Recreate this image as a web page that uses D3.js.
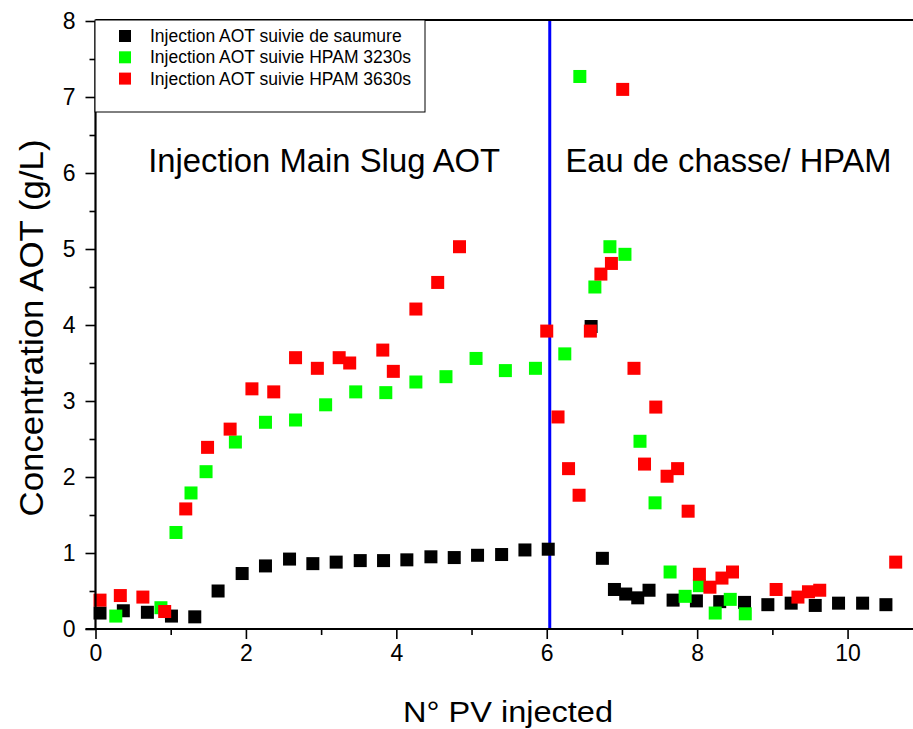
<!DOCTYPE html>
<html>
<head>
<meta charset="utf-8">
<script src="https://cdn.jsdelivr.net/npm/d3@7"></script>
<style>
  body { margin: 0; background: #fff; }
  text { font-family: "Liberation Sans", Arial, sans-serif; fill: #000; }
</style>
</head>
<body>
<div id="chart"></div>
<script>
// series: injection AOT followed by brine
const saumureX = [0.06, 0.37, 0.69, 1.01, 1.32, 1.63, 1.95, 2.26, 2.58, 2.89, 3.20, 3.52, 3.83, 4.14, 4.46, 4.77, 5.08, 5.40, 5.71, 6.02,
                  6.59, 6.74, 6.90, 7.05, 7.21, 7.36, 7.68, 7.99, 8.30, 8.63, 8.94, 9.25, 9.57, 9.88, 10.20, 10.51];
const saumureY = [0.21, 0.24, 0.22, 0.17, 0.16, 0.50, 0.73, 0.83, 0.92, 0.86, 0.88, 0.90, 0.90, 0.91, 0.95, 0.94, 0.97, 0.98, 1.04, 1.05,
                  3.98, 0.93, 0.52, 0.46, 0.41, 0.51, 0.38, 0.37, 0.36, 0.35, 0.32, 0.34, 0.31, 0.34, 0.34, 0.32];

// series: injection AOT followed by HPAM 3230s
const hpam3230X = [0.27, 0.87, 1.07, 1.27, 1.47, 1.86, 2.26, 2.66, 3.06, 3.46, 3.86, 4.26, 4.66, 5.06, 5.45, 5.85,
                   6.24, 6.44, 6.64, 6.84, 7.04, 7.24, 7.44, 7.64, 7.84, 8.03, 8.24, 8.44, 8.64];
const hpam3230Y = [0.17, 0.28, 1.27, 1.79, 2.07, 2.46, 2.72, 2.75, 2.95, 3.12, 3.11, 3.25, 3.32, 3.56, 3.40, 3.43,
                   3.62, 7.27, 4.50, 5.03, 4.93, 2.47, 1.66, 0.75, 0.43, 0.57, 0.21, 0.39, 0.20];

// series: injection AOT followed by HPAM 3630s
const hpam3630X = [0.06, 0.33, 0.63, 0.92, 1.20, 1.49, 1.79, 2.08, 2.37, 2.66, 2.95, 3.24, 3.38, 3.82, 3.96, 4.26, 4.55, 4.84,
                   6.00, 6.15, 6.29, 6.43, 6.58, 6.72, 6.86, 7.01, 7.16, 7.30, 7.45, 7.60, 7.74, 7.88, 8.03, 8.17, 8.33, 8.47,
                   9.05, 9.34, 9.48, 9.63, 10.64];
const hpam3630Y = [0.38, 0.44, 0.42, 0.23, 1.58, 2.39, 2.63, 3.16, 3.12, 3.57, 3.43, 3.57, 3.50, 3.67, 3.39, 4.21, 4.56, 5.03,
                   3.92, 2.79, 2.11, 1.76, 3.92, 4.67, 4.81, 7.10, 3.43, 2.17, 2.92, 2.01, 2.11, 1.55, 0.72, 0.55, 0.67, 0.75,
                   0.52, 0.42, 0.49, 0.51, 0.88];

const seriesNames = ["Injection AOT suivie de saumure", "Injection AOT suivie HPAM 3230s", "Injection AOT suivie HPAM 3630s"];
const seriesColors = ["#000000", "#00ff00", "#ff0000"];

const xTicks = [0, 2, 4, 6, 8, 10];
const xMinor = [1, 3, 5, 7, 9];
const yTicks = [0, 1, 2, 3, 4, 5, 6, 7, 8];
const yMinor = [0.5, 1.5, 2.5, 3.5, 4.5, 5.5, 6.5, 7.5];

const separatorX = 6.04;
const zoneLabels = ["Injection Main Slug AOT", "Eau de chasse/ HPAM"];
const zoneLabelX = [0.7, 6.25];

const width = 913, height = 729;
const plotLeft = 95.5, plotTop = 21, plotBottom = 629;

var svg = d3.select("#chart").append("svg")
    .attr("width", width)
    .attr("height", height);

var x = d3.scaleLinear().domain([0, 10.87]).range([plotLeft, 913]);
var y = d3.scaleLinear().domain([0, 8]).range([plotBottom, plotTop]);

// zone separator
svg.append("line")
    .attr("x1", x(separatorX)).attr("x2", x(separatorX))
    .attr("y1", y(8)).attr("y2", y(0))
    .attr("stroke", "#0000ff")
    .attr("stroke-width", 3);

// zone labels
svg.selectAll("text.zone")
    .data(zoneLabels)
    .enter()
    .append("text")
    .attr("class", "zone")
    .attr("x", (d, i) => x(zoneLabelX[i]))
    .attr("y", 172)
    .attr("textLength", (d, i) => i === 0 ? 352 : 326)
    .attr("lengthAdjust", "spacingAndGlyphs")
    .style("font-size", "33px")
    .text(d => d);

// points, black first then green then red
const size = 13;
const allSeries = [
    d3.zip(saumureX, saumureY),
    d3.zip(hpam3230X, hpam3230Y),
    d3.zip(hpam3630X, hpam3630Y)
];
allSeries.forEach((pts, i) => {
    svg.append("g").selectAll("rect")
        .data(pts)
        .enter()
        .append("rect")
        .attr("x", d => x(d[0]) - size / 2)
        .attr("y", d => y(d[1]) - size / 2)
        .attr("width", size)
        .attr("height", size)
        .attr("fill", seriesColors[i]);
});

// axes
var xAxis = svg.append("g")
    .attr("transform", "translate(0," + plotBottom + ")")
    .call(d3.axisBottom(x).tickValues(xTicks).tickSize(10).tickPadding(6).tickFormat(d3.format("d")));
svg.append("g")
    .attr("transform", "translate(0," + plotBottom + ")")
    .call(d3.axisBottom(x).tickValues(xMinor).tickSize(6).tickFormat(""))
    .select(".domain").remove();

var yAxis = svg.append("g")
    .attr("transform", "translate(" + plotLeft + ",0)")
    .call(d3.axisLeft(y).tickValues(yTicks).tickSize(10).tickPadding(10).tickFormat(d3.format("d")));
svg.append("g")
    .attr("transform", "translate(" + plotLeft + ",0)")
    .call(d3.axisLeft(y).tickValues(yMinor).tickSize(6).tickFormat(""))
    .select(".domain").remove();

svg.selectAll(".tick line").attr("stroke", "#000").attr("stroke-width", 1.6);
xAxis.select(".domain").attr("d", "M" + (plotLeft - 10) + ",0H913").attr("stroke-width", 2.2);
yAxis.select(".domain").attr("d", "M0," + plotTop + "V" + plotBottom).attr("stroke-width", 2.2);
svg.selectAll(".tick text")
    .style("font-size", "23px")
    .style("font-family", "'Liberation Sans', Arial, sans-serif");

// top frame line
svg.append("line")
    .attr("x1", plotLeft).attr("x2", 913)
    .attr("y1", plotTop - 1).attr("y2", plotTop - 1)
    .attr("stroke", "#000")
    .attr("stroke-width", 2.2);

// axis titles
svg.append("text")
    .attr("x", 508)
    .attr("y", 722)
    .attr("text-anchor", "middle")
    .attr("textLength", 210)
    .attr("lengthAdjust", "spacingAndGlyphs")
    .style("font-size", "30px")
    .text("N° PV injected");

svg.append("text")
    .attr("transform", "translate(43,328) rotate(-90)")
    .attr("text-anchor", "middle")
    .attr("textLength", 377)
    .attr("lengthAdjust", "spacingAndGlyphs")
    .style("font-size", "33px")
    .text("Concentration AOT (g/L)");

// legend
var legend = svg.append("g");
legend.append("rect")
    .attr("x", 95)
    .attr("y", 20)
    .attr("width", 330)
    .attr("height", 92)
    .attr("fill", "#fff")
    .attr("stroke", "#000")
    .attr("stroke-width", 1);

legend.selectAll("rect.key")
    .data(seriesNames)
    .enter()
    .append("rect")
    .attr("class", "key")
    .attr("x", 119)
    .attr("y", (d, i) => 30 + i * 21.3)
    .attr("width", 12)
    .attr("height", 12)
    .attr("fill", (d, i) => seriesColors[i]);

legend.selectAll("text")
    .data(seriesNames)
    .enter()
    .append("text")
    .attr("x", 150)
    .attr("y", (d, i) => 42 + i * 21.3)
    .style("font-size", "17.5px")
    .text(d => d);
</script>
</body>
</html>
